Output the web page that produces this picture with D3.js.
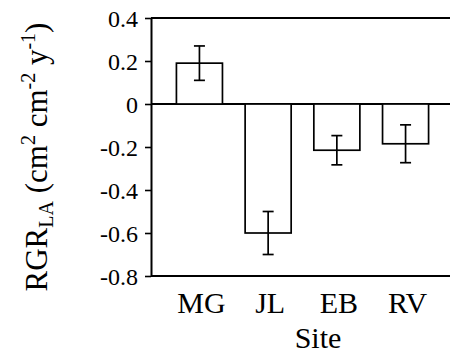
<!DOCTYPE html>
<html>
<head>
<meta charset="utf-8">
<script src="https://cdn.jsdelivr.net/npm/d3@7"></script>
<style>
  html, body { margin: 0; padding: 0; background: #fff; }
  svg { display: block; font-family: "Liberation Serif", "Times New Roman", serif; }
</style>
</head>
<body>
<svg id="chart" width="450" height="360"></svg>
<script>
// Relative growth rate of leaf area by site (mean ± error)
const sites = ["MG", "JL", "EB", "RV"];
const rgrValues = [0.19, -0.60, -0.215, -0.185];
const rgrErrors = [0.08, 0.10, 0.068, 0.088];
const yTicks = [0.4, 0.2, 0, -0.2, -0.4, -0.6, -0.8];

const svg = d3.select("#chart");
const plot = { left: 151, right: 454, top: 18, bottom: 276 };
const serif = "'Liberation Serif', 'Times New Roman', serif";

const y = d3.scaleLinear().domain([-0.8, 0.4]).range([plot.bottom, plot.top]);
const x = d3.scaleBand().domain(sites)
  .range([plot.left, plot.right])
  .paddingInner(0.33)
  .paddingOuter(0.37);

const data = sites.map((s, i) => ({ site: s, v: rgrValues[i], e: rgrErrors[i] }));

// Y axis (plain hyphen for negative labels)
const yAxis = d3.axisLeft(y)
  .tickValues(yTicks)
  .tickSize(6)
  .tickSizeOuter(0)
  .tickPadding(7)
  .tickFormat(d => d === 0 ? "0" : d.toFixed(1));

const gy = svg.append("g")
  .attr("transform", `translate(${plot.left},0)`)
  .call(yAxis)
  .attr("font-family", serif)
  .attr("font-size", 24);
gy.select(".domain").attr("stroke", "#000").attr("stroke-width", 2);
gy.selectAll(".tick line").attr("stroke", "#000").attr("stroke-width", 1.6);
gy.selectAll(".tick text")
  .attr("fill", "#000")
  .attr("dy", "0.34em");

// Horizontal frame lines at top, zero and bottom
[0.4, 0, -0.8].forEach(v => {
  svg.append("line")
    .attr("x1", plot.left).attr("x2", 450)
    .attr("y1", y(v)).attr("y2", y(v))
    .attr("stroke", "#000").attr("stroke-width", 2);
});

// Bars
svg.append("g").selectAll("rect")
  .data(data)
  .join("rect")
  .attr("x", d => x(d.site))
  .attr("width", x.bandwidth())
  .attr("y", d => y(Math.max(0, d.v)))
  .attr("height", d => Math.abs(y(d.v) - y(0)))
  .attr("fill", "#fff")
  .attr("stroke", "#000")
  .attr("stroke-width", 1.7);

// Error bars
const capHalf = 5.5;
const eb = svg.append("g").selectAll("g")
  .data(data)
  .join("g")
  .attr("stroke", "#000")
  .attr("stroke-width", 1.7);
eb.append("line")
  .attr("x1", d => x(d.site) + x.bandwidth() / 2)
  .attr("x2", d => x(d.site) + x.bandwidth() / 2)
  .attr("y1", d => y(d.v + d.e))
  .attr("y2", d => y(d.v - d.e));
eb.append("line")
  .attr("x1", d => x(d.site) + x.bandwidth() / 2 - capHalf)
  .attr("x2", d => x(d.site) + x.bandwidth() / 2 + capHalf)
  .attr("y1", d => y(d.v + d.e))
  .attr("y2", d => y(d.v + d.e));
eb.append("line")
  .attr("x1", d => x(d.site) + x.bandwidth() / 2 - capHalf)
  .attr("x2", d => x(d.site) + x.bandwidth() / 2 + capHalf)
  .attr("y1", d => y(d.v - d.e))
  .attr("y2", d => y(d.v - d.e));

// Category labels
svg.append("g").selectAll("text")
  .data(sites)
  .join("text")
  .attr("x", d => x(d) + x.bandwidth() / 2 + 2)
  .attr("y", 312.5)
  .attr("text-anchor", "middle")
  .attr("font-family", serif)
  .attr("font-size", 30)
  .text(d => d);

// X axis title
svg.append("text")
  .attr("x", 318)
  .attr("y", 348)
  .attr("text-anchor", "middle")
  .attr("font-family", serif)
  .attr("font-size", 30)
  .text("Site");

// Y axis title with subscript and superscripts
const yt = svg.append("text")
  .attr("transform", "translate(47,157) rotate(-90)")
  .attr("text-anchor", "middle")
  .attr("font-family", serif)
  .attr("font-size", 31);
yt.append("tspan").text("RGR");
yt.append("tspan").attr("dy", 6).attr("font-size", 20).text("LA");
yt.append("tspan").attr("dy", -6).text(" (cm");
yt.append("tspan").attr("dy", -12).attr("font-size", 20).text("2");
yt.append("tspan").attr("dy", 12).text(" cm");
yt.append("tspan").attr("dy", -12).attr("font-size", 20).text("-2");
yt.append("tspan").attr("dy", 12).text(" y");
yt.append("tspan").attr("dy", -12).attr("font-size", 20).text("-1");
yt.append("tspan").attr("dy", 12).text(")");
</script>
</body>
</html>
